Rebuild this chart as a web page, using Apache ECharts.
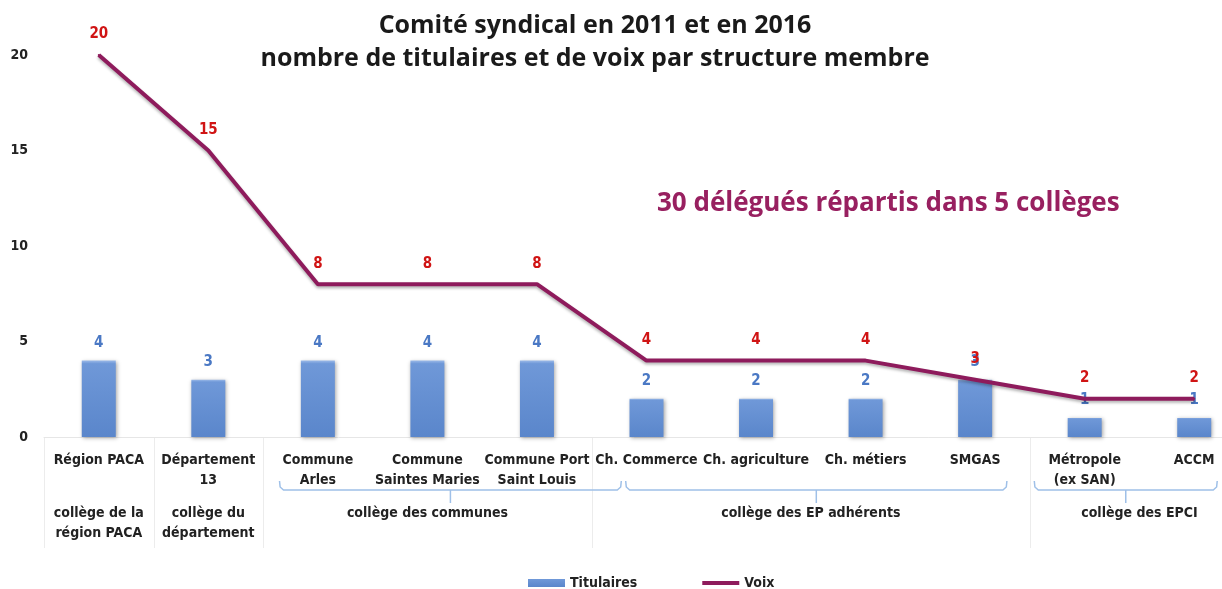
<!DOCTYPE html>
<html lang="fr">
<head>
    <meta charset="UTF-8">
    <title>Comité syndical</title>
    <style>
        html, body { margin: 0; padding: 0; background: #fff; }
        #box { width: 1222px; height: 589px; }
    </style>
    <script src="https://cdn.jsdelivr.net/npm/echarts@6/dist/echarts.min.js"></script>
</head>
<body>
    <div id="box"></div>
    <script>
        // données
        const categories = ['Région PACA', 'Département\n13', 'Commune\nArles', 'Commune\nSaintes Maries',
            'Commune Port\nSaint Louis', 'Ch. Commerce', 'Ch. agriculture', 'Ch. métiers', 'SMGAS',
            'Métropole\n(ex SAN)', 'ACCM'];
        const titulaires = [4, 3, 4, 4, 4, 2, 2, 2, 3, 1, 1];
        const voix = [20, 15, 8, 8, 8, 4, 4, 4, 3, 2, 2];
        const collegeNames = ['collège de la\nrégion PACA', 'collège du\ndépartement', 'collège des communes',
            'collège des EP adhérents', 'collège des EPCI'];
        const collegeFirst = [0, 1, 2, 5, 9];
        const collegeLast = [0, 1, 4, 8, 10];

        const labelFont = "'Liberation Sans Narrow', 'DejaVu Sans Condensed', sans-serif";
        const box = document.querySelector('#box');
        const myChart = echarts.init(box);

        const option = {
            animation: false,
            title: {
                text: 'Comité syndical en 2011 et en 2016\nnombre de titulaires et de voix par structure membre',
                left: 590,
                textAlign: 'center',
                top: 4,
                textStyle: {
                    fontFamily: 'Open Sans',
                    fontWeight: 'bold',
                    fontSize: 25,
                    lineHeight: 33,
                    color: '#1a1a1a'
                }
            },
            legend: {
                left: 523,
                top: 571,
                itemWidth: 37,
                itemHeight: 8,
                itemGap: 65,
                textStyle: { fontFamily: labelFont, fontWeight: 'bold', fontSize: 14, color: '#222' },
                data: [
                    { name: 'Titulaires', icon: 'rect' },
                    { name: 'Voix', icon: 'path://M0,0H37V4H0Z' }
                ]
            },
            grid: { left: 44, top: 55, width: 1205, height: 382, outerBoundsMode: 'none' },
            xAxis: {
                type: 'category',
                data: categories,
                axisLine: { lineStyle: { color: '#e6e6e6' } },
                axisTick: { show: false },
                axisLabel: {
                    interval: 0,
                    margin: 13,
                    fontFamily: labelFont,
                    fontWeight: 'bold',
                    fontSize: 14,
                    lineHeight: 20,
                    color: '#222'
                }
            },
            yAxis: {
                type: 'value',
                min: 0,
                max: 20,
                interval: 5,
                splitLine: { show: false },
                axisLine: { show: false },
                axisLabel: { margin: 16, fontFamily: labelFont, fontWeight: 'bold', fontSize: 14, color: '#222' }
            },
            series: [{
                name: 'Titulaires',
                type: 'bar',
                data: titulaires,
                barWidth: 34,
                itemStyle: {
                    color: new echarts.graphic.LinearGradient(0, 0, 0, 1, [
                        { offset: 0, color: '#9ab9e8' },
                        { offset: 0.04, color: '#6f98d8' },
                        { offset: 1, color: '#5a86cb' }
                    ]),
                    shadowColor: 'rgba(0,0,0,0.35)',
                    shadowBlur: 4,
                    shadowOffsetX: 1,
                    shadowOffsetY: 1
                },
                label: {
                    show: true,
                    position: 'top',
                    distance: 10,
                    fontFamily: labelFont,
                    fontWeight: 'bold',
                    fontSize: 15,
                    color: '#4a78c4'
                }
            }, {
                name: 'Voix',
                type: 'line',
                data: voix,
                symbol: 'circle',
                symbolSize: 2,
                itemStyle: { color: '#8e1b5c' },
                lineStyle: {
                    color: '#8e1b5c',
                    width: 4,
                    shadowColor: 'rgba(0,0,0,0.3)',
                    shadowBlur: 3,
                    shadowOffsetY: 2
                },
                label: {
                    show: true,
                    position: 'top',
                    distance: 12,
                    fontFamily: labelFont,
                    fontWeight: 'bold',
                    fontSize: 15,
                    color: '#d01414'
                },
                z: 3
            }]
        };

        myChart.setOption(option);

        // cadres, accolades et noms des collèges
        const px = i => myChart.convertToPixel({ xAxisIndex: 0 }, i);
        const step = px(1) - px(0);
        const braceExt = { 2: [-0.35, 0.77], 3: [-0.19, 0.29], 4: [-0.46, 0.21] };
        const braceColor = '#9fc0e8';
        const graphics = [];

        // séparateurs verticaux
        [0, 1, 2, 5, 9].forEach(i => {
            const x = Math.round(px(i) - step / 2) + 0.5;
            graphics.push({
                type: 'line', silent: true,
                shape: { x1: x, y1: 437, x2: x, y2: 548 },
                style: { stroke: '#ececec', lineWidth: 1 }
            });
        });

        collegeNames.forEach((name, g) => {
            const cx = (px(collegeFirst[g]) + px(collegeLast[g])) / 2;
            graphics.push({
                type: 'text', silent: true,
                x: cx, y: 503,
                style: {
                    text: name,
                    align: 'center',
                    verticalAlign: 'top',
                    font: 'bold 14px ' + labelFont,
                    lineHeight: 20,
                    fill: '#222'
                }
            });
            const ext = braceExt[g];
            if (ext) {
                const x0 = px(collegeFirst[g]) + ext[0] * step;
                const x1 = px(collegeLast[g]) + ext[1] * step;
                const xm = (x0 + x1) / 2;
                graphics.push({
                    type: 'polyline', silent: true,
                    shape: { points: [[x0, 481], [x0 + 0.6, 487], [x0 + 4, 490], [x1 - 4, 490], [x1 - 0.6, 487], [x1, 481]] },
                    style: { stroke: braceColor, lineWidth: 1.5, fill: null }
                });
                graphics.push({
                    type: 'line', silent: true,
                    shape: { x1: xm, y1: 490, x2: xm, y2: 503 },
                    style: { stroke: braceColor, lineWidth: 1.5 }
                });
            }
        });

        graphics.push({
            type: 'text', silent: true,
            x: 657, y: 204,
            style: {
                text: '30 délégués répartis dans 5 collèges',
                verticalAlign: 'middle',
                font: 'bold 26px "Open Sans"',
                fill: '#982060'
            }
        });

        myChart.setOption({ graphic: graphics });
    </script>
</body>
</html>
